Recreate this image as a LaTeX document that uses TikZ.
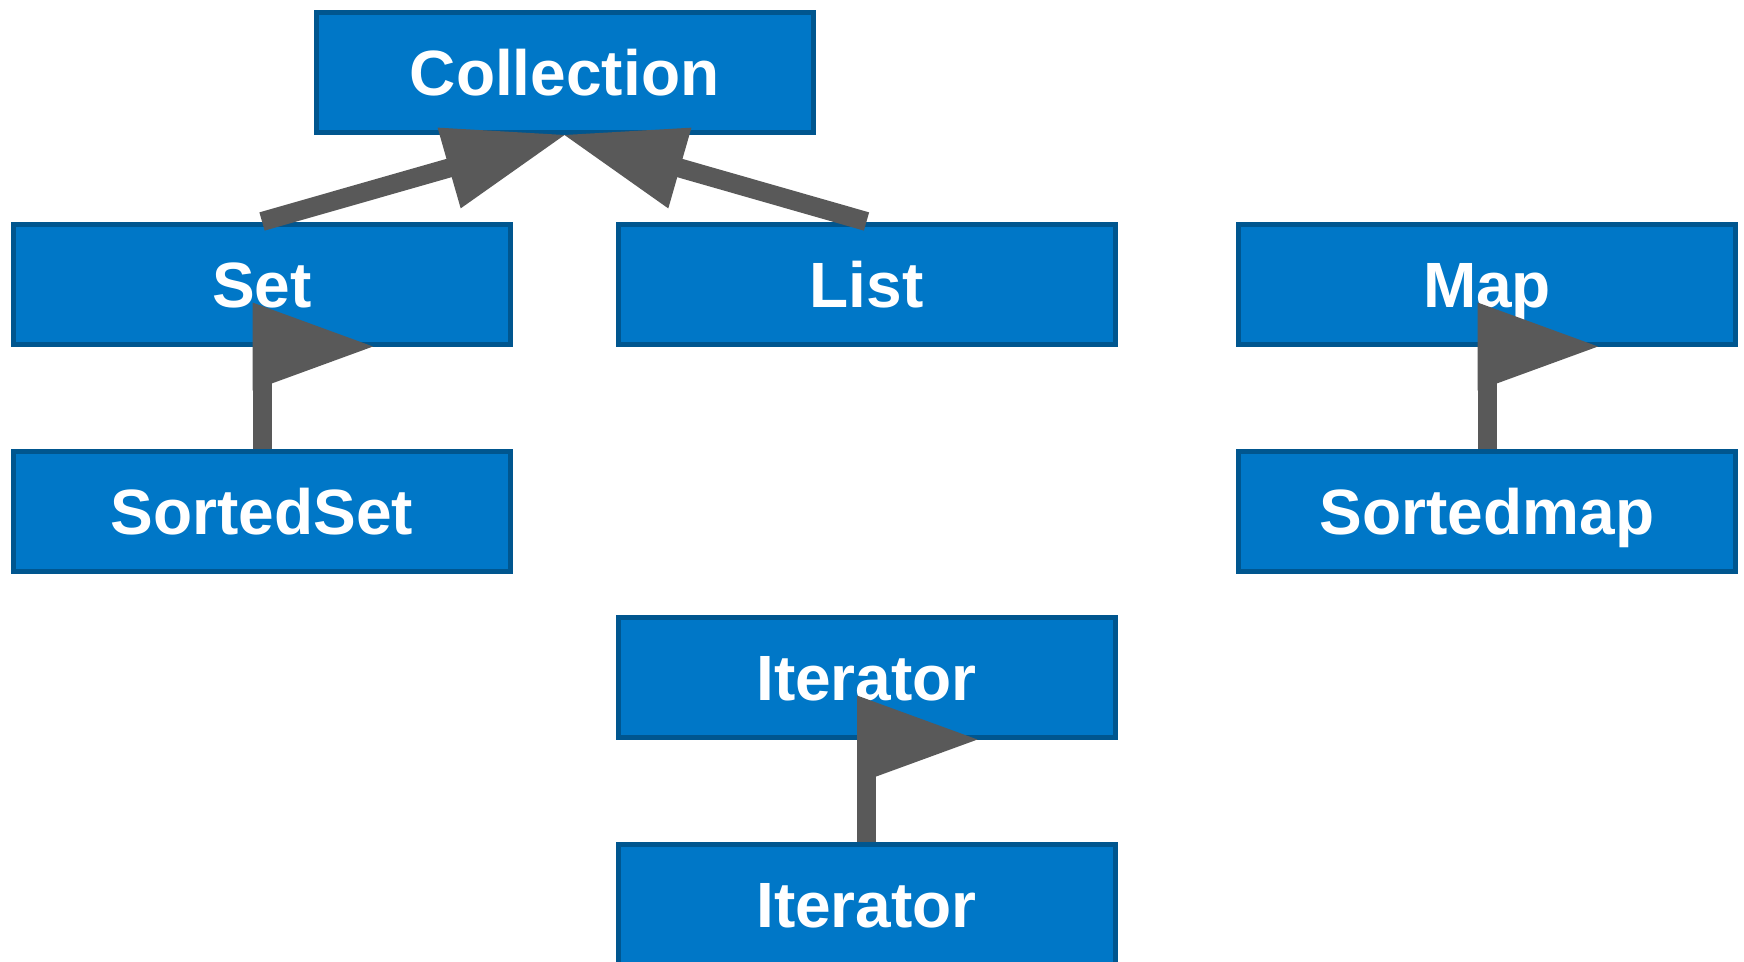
\documentclass[tikz,border=0pt]{standalone}
\usepackage{fontspec}
\setmainfont{Liberation Sans}
\usetikzlibrary{calc}
\definecolor{boxblue}{RGB}{0,119,199}
\definecolor{boxborder}{RGB}{0,86,143}
\definecolor{arrowgray}{RGB}{89,89,89}
\tikzset{
  cls/.style={draw=boxborder, line width=5pt, fill=boxblue, text=white,
    minimum width=497pt, minimum height=120pt, inner sep=0pt,
    text height=46pt, text depth=0pt,
    font=\bfseries\fontsize{64}{70}\selectfont},
  dconn/.style={draw=arrowgray, line width=19pt, line cap=butt},
  vconn/.style={draw=arrowgray, line width=19pt, line cap=butt},
  headfill/.style={fill=arrowgray}
}
\begin{document}
\begin{tikzpicture}[x=1pt,y=-1pt]
\useasboundingbox (0,0) rectangle (1744,961);
\clip (0,0) rectangle (1744,961);
\fill[white] (0,0) rectangle (1744,961);

\node[cls] (coll) at (564.5,72.5) {Collection};
\node[cls] (set) at (262,284) {Set};
\node[cls] (list) at (866.5,284) {List};
\node[cls] (map) at (1487,284) {Map};
\node[cls] (sset) at (262,511) {SortedSet};
\node[cls] (smap) at (1487,511) {Sortedmap};
\node[cls] (it1) at (866.5,677) {Iterator};
\node[cls] (it2) at (866.5,904) {Iterator};

% diagonal arrows to Collection
\coordinate (t1) at (coll.south);
\coordinate (bl) at ($(t1)!120pt!(set.north)$);
\coordinate (br) at ($(t1)!120pt!(list.north)$);
\draw[dconn] (set.north) -- ($(t1)!60pt!(set.north)$);
\draw[dconn] (list.north) -- ($(t1)!60pt!(list.north)$);
\fill[headfill] (t1) -- ($(bl)!42pt!90:(t1)$) -- ($(bl)!42pt!-90:(t1)$) -- cycle;
\fill[headfill] (t1) -- ($(br)!42pt!90:(t1)$) -- ($(br)!42pt!-90:(t1)$) -- cycle;

% vertical flag-like arrows
\draw[vconn] (sset.north) -- (set.south);
\fill[headfill] (set.south) ++(-9.5,-44) -- ++(120.5,44) -- ++(-120.5,44) -- cycle;

\draw[vconn] (smap.north) -- (map.south);
\fill[headfill] (map.south) ++(-9.5,-44) -- ++(120.5,44) -- ++(-120.5,44) -- cycle;

\draw[vconn] (it2.north) -- (it1.south);
\fill[headfill] (it1.south) ++(-9.5,-44) -- ++(120.5,44) -- ++(-120.5,44) -- cycle;
\end{tikzpicture}
\end{document}
